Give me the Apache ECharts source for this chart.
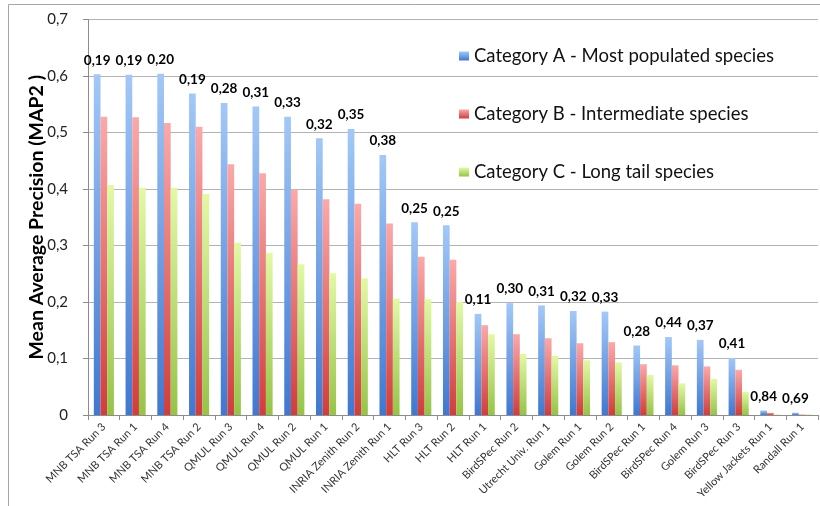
<!DOCTYPE html>
<html>
<head>
<meta charset="utf-8">
<script src="https://cdn.jsdelivr.net/npm/echarts@6/dist/echarts.min.js"></script>
<style>
html,body{margin:0;padding:0;background:#fff;}
#chart{width:820px;height:506px;}
</style>
</head>
<body>
<div id="chart"></div>
<script>
var categories = ['MNB TSA Run 3','MNB TSA Run 1','MNB TSA Run 4','MNB TSA Run 2','QMUL Run 3','QMUL Run 4','QMUL Run 2','QMUL Run 1','INRIA Zenith Run 2','INRIA Zenith Run 1','HLT Run 3','HLT Run 2','HLT Run 1','BirdSPec Run 2','Utrecht Univ. Run 1','Golem Run 1','Golem Run 2','BirdSPec Run 1','BirdSPec Run 4','Golem Run 3','BirdSPec Run 3','Yellow Jackets Run 1','Randall Run 1'];
var catA = [0.603,0.602,0.604,0.569,0.552,0.546,0.528,0.490,0.506,0.460,0.341,0.336,0.179,0.198,0.194,0.184,0.183,0.123,0.138,0.133,0.101,0.008,0.004];
var catB = [0.528,0.527,0.517,0.510,0.444,0.428,0.399,0.382,0.374,0.339,0.280,0.275,0.159,0.143,0.136,0.127,0.129,0.090,0.088,0.086,0.080,0.004,0.001];
var catC = [0.407,0.402,0.402,0.391,0.305,0.287,0.267,0.251,0.242,0.206,0.205,0.200,0.143,0.108,0.105,0.097,0.093,0.071,0.056,0.064,0.041,0.001,0.001];
var topLabels = ['0,19','0,19','0,20','0,19','0,28','0,31','0,33','0,32','0,35','0,38','0,25','0,25','0,11','0,30','0,31','0,32','0,33','0,28','0,44','0,37','0,41','0,84','0,69'];
var seriesNames = ['Category A - Most populated species','Category B - Intermediate species','Category C - Long tail species'];
var yTicks = [0,0.1,0.2,0.3,0.4,0.5,0.6,0.7];

var FONT = 'Lato';
function grad(top, bottom){
  return new echarts.graphic.LinearGradient(0,0,0,1,[{offset:0,color:top},{offset:1,color:bottom}]);
}
var chart = echarts.init(document.getElementById('chart'), null, {renderer:'canvas'});
var option = {
  animation:false,
  backgroundColor:'#fff',
  textStyle:{fontFamily:FONT},
  graphic:[{type:'rect',shape:{x:8.5,y:4.5,width:900,height:600},style:{fill:'none',stroke:'#a6a6a6',lineWidth:1},silent:true}],
  legend:{
    orient:'vertical',left:454,top:41,itemGap:38,itemWidth:10,itemHeight:9,
    icon:'rect',
    textStyle:{fontFamily:FONT,fontSize:18.5,color:'#111',lineHeight:20,padding:[0,0,0,0]},
    data:seriesNames
  },
  grid:{left:88,right:2,top:19.5,bottom:91,containLabel:false},
  xAxis:{
    type:'category',data:categories,
    axisLine:{lineStyle:{color:'#8c8c8c'}},
    axisTick:{show:true,length:5,lineStyle:{color:'#8c8c8c'}},
    axisLabel:{rotate:45,fontSize:11,color:'#333',margin:10,interval:0,fontFamily:FONT}
  },
  yAxis:{
    type:'value',min:0,max:0.7,interval:0.1,
    name:'Mean Average Precision (MAP2 )',nameLocation:'middle',nameGap:41,nameRotate:90,
    nameMoveOverlap:false,
    nameTextStyle:{fontSize:19.5,fontWeight:'bold',color:'#000',fontFamily:FONT},
    axisLine:{show:true,lineStyle:{color:'#8c8c8c'}},
    axisTick:{show:true,length:5,lineStyle:{color:'#8c8c8c'}},
    splitLine:{lineStyle:{color:'#b3b3b3'}},
    axisLabel:{fontSize:15,color:'#222',margin:20,fontFamily:FONT,
      formatter:function(v){
        var i = yTicks.findIndex(function(t){return Math.abs(t-v)<1e-9;});
        var t = i>=0 ? yTicks[i] : v;
        return t===0 ? '0' : t.toFixed(1).replace('.',',');
      }}
  },
  series:[
    {name:seriesNames[0],type:'bar',data:catA,barWidth:6.7,barGap:'0%',barCategoryGap:'34%',
     itemStyle:{color:grad('#a3c8f8','#3f78d0')},
     label:{show:true,position:'top',distance:7,fontSize:13.5,fontWeight:'bold',color:'#000',fontFamily:FONT,
       formatter:function(p){return topLabels[p.dataIndex];}}},
    {name:seriesNames[1],type:'bar',data:catB,barWidth:6.7,barGap:'0%',
     itemStyle:{color:grad('#fba9a9','#d23c3c')}},
    {name:seriesNames[2],type:'bar',data:catC,barWidth:6.7,barGap:'0%',
     itemStyle:{color:grad('#e2f9a6','#95c447')}}
  ]
};
chart.setOption(option);
</script>
</body>
</html>
